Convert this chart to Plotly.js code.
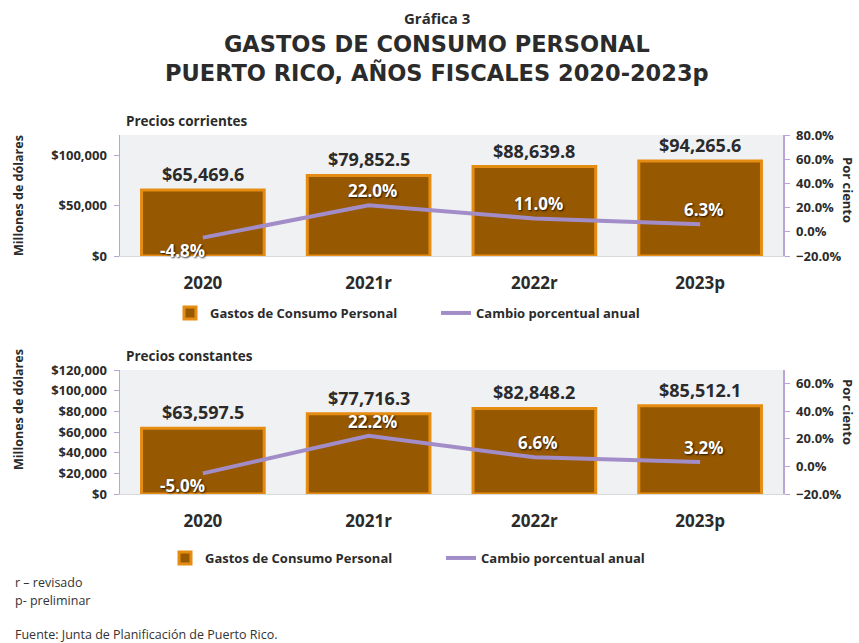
<!DOCTYPE html>
<html>
<head>
<meta charset="utf-8">
<script src="https://cdn.plot.ly/plotly-3.0.1.min.js"></script>
<style>html,body{margin:0;padding:0;background:#fff;}#chart{width:859px;height:643px;}</style>
</head>
<body>
<div id="chart"></div>
<script>
// ---- Data ----
const years = ["2020", "2021r", "2022r", "2023p"];
const gastosCorrientes = [65469.6, 79852.5, 88639.8, 94265.6];
const cambioCorrientes = [-4.8, 22.0, 11.0, 6.3];
const gastosConstantes = [63597.5, 77716.3, 82848.2, 85512.1];
const cambioConstantes = [-5.0, 22.2, 6.6, 3.2];

const barName = "Gastos de Consumo Personal";
const lineName = "Cambio porcentual anual";

// ---- Styles ----
const FONT = "Open Sans, Liberation Sans, sans-serif";
const TITLE_FONT = "DejaVu Sans, Open Sans, sans-serif";
const DARK = "#2b2b2b";
const BAR_FILL = "#965800";
const BAR_EDGE = "#E58C12";
const LINE_COL = "#A28DC9";
const AXIS_COL = "#B9A6D6";

const W = 859, H = 643, ML = 120, MR = 76;
const px2x = p => (p - ML) / (W - ML - MR);
const py2y = p => 1 - p / H;

function barTrace(vals, xa, ya, legend) {
  return {
    type: "bar", x: years, y: vals, name: barName, xaxis: xa, yaxis: ya,
    legend: legend,
    marker: {color: BAR_FILL, line: {color: BAR_EDGE, width: 3}},
    hoverinfo: "skip"
  };
}
function lineTrace(vals, xa, ya, legend) {
  return {
    type: "scatter", mode: "lines", x: years, y: vals, name: lineName,
    xaxis: xa, yaxis: ya, legend: legend,
    line: {color: LINE_COL, width: 4}, hoverinfo: "skip"
  };
}

const data = [
  barTrace(gastosCorrientes, "x", "y", "legend"),
  lineTrace(cambioCorrientes, "x", "y2", "legend"),
  barTrace(gastosConstantes, "x2", "y3", "legend2"),
  lineTrace(cambioConstantes, "x2", "y4", "legend2")
];

const annotations = [];
function valueLabels(vals, xr, yr) {
  vals.forEach((v, i) => {
    annotations.push({
      x: i, y: v, xref: xr, yref: yr, yanchor: "bottom", yshift: 2,
      text: "$" + v.toLocaleString("en-US", {minimumFractionDigits: 1, maximumFractionDigits: 1}),
      showarrow: false, font: {family: FONT, size: 18, color: DARK, weight: 700}
    });
  });
}
function pctLabels(vals, xr, yr) {
  vals.forEach((v, i) => {
    annotations.push({
      x: i, y: v, xref: xr, yref: yr,
      yanchor: v < 0 ? "top" : "bottom", yshift: v < 0 ? 1 : 1, xshift: v < 0 ? -20 : 4,
      text: v.toFixed(1) + "%", showarrow: false,
      font: {family: FONT, size: 17, color: "#ffffff", weight: 700, shadow: "1px 1px 2px rgba(0,0,0,0.8)"}
    });
  });
}
valueLabels(gastosCorrientes, "x", "y");
pctLabels(cambioCorrientes, "x", "y2");
valueLabels(gastosConstantes, "x2", "y3");
pctLabels(cambioConstantes, "x2", "y4");

function txt(text, xp, yp, size, weight, opts) {
  annotations.push(Object.assign({
    text: text, xref: "paper", yref: "paper", x: px2x(xp), y: py2y(yp),
    showarrow: false, font: {family: FONT, size: size, color: DARK, weight: weight}
  }, opts || {}));
}
// Titles
txt("Gráfica 3", 437, 18, 15, 700, {xanchor: "center", yanchor: "middle"});
txt("GASTOS DE CONSUMO PERSONAL<br>PUERTO RICO, AÑOS FISCALES 2020-2023p", 437, 59, 22.5, 700,
    {xanchor: "center", yanchor: "middle", font: {family: TITLE_FONT, size: 22.5, color: DARK, weight: 700}});
// Panel subtitles
txt("Precios corrientes", 124, 121, 13.5, 700, {xanchor: "left", yanchor: "middle"});
txt("Precios constantes", 124, 356, 13.5, 700, {xanchor: "left", yanchor: "middle"});
// Axis titles
txt("Millones de dólares", 18, 196, 12.5, 700, {xanchor: "center", yanchor: "middle", textangle: -90});
txt("Millones de dólares", 18, 410, 12.5, 700, {xanchor: "center", yanchor: "middle", textangle: -90});
txt("Por ciento", 848, 190, 13, 700, {xanchor: "center", yanchor: "middle", textangle: 90});
txt("Por ciento", 848, 412, 13, 700, {xanchor: "center", yanchor: "middle", textangle: 90});
// Footnotes
const footFont = {family: FONT, size: 12.5, color: "#333"};
txt("r – revisado", 13, 582, 12, 400, {xanchor: "left", yanchor: "middle", font: footFont});
txt("p- preliminar", 13, 600, 12, 400, {xanchor: "left", yanchor: "middle", font: footFont});
txt("Fuente: Junta de Planificación de Puerto Rico.", 13, 634, 12, 400, {xanchor: "left", yanchor: "middle", font: footFont});

const tickFont = {family: FONT, size: 13, color: DARK, weight: 700};
const xTickFont = {family: FONT, size: 17, color: DARK, weight: 700};

function xAxis(anchor) {
  return {
    domain: [0, 1], anchor: anchor, type: "category", categoryorder: "array", categoryarray: years,
    range: [-0.5, years.length - 0.5], autorange: false,
    showgrid: false, zeroline: false,
    showline: true, linecolor: "#D9D9D9", linewidth: 1, ticks: "",
    tickfont: xTickFont, ticklabelstandoff: 12, automargin: false, fixedrange: true
  };
}
function yLeft(domain, anchor, range, dtick) {
  return {
    domain: domain, anchor: anchor, range: range, autorange: false, dtick: dtick, tick0: 0,
    showgrid: false, zeroline: false, showline: true, linecolor: AXIS_COL, linewidth: 1.5,
    ticks: "outside", ticklen: 5, tickcolor: AXIS_COL, tickprefix: "$", tickformat: ",d",
    tickfont: tickFont, ticklabelstandoff: 4, automargin: false, fixedrange: true
  };
}
function yRight(overlay, anchor, range) {
  return {
    overlaying: overlay, anchor: anchor, side: "right", range: range, autorange: false, dtick: 20, tick0: 0,
    showgrid: false, zeroline: false, showline: true, linecolor: AXIS_COL, linewidth: 1.5,
    ticks: "outside", ticklen: 5, tickcolor: AXIS_COL, ticksuffix: "%", tickformat: ".1f",
    tickfont: tickFont, ticklabelstandoff: 4, automargin: false, fixedrange: true
  };
}

const legendBase = {
  orientation: "h", xanchor: "left", yanchor: "middle", font: {family: FONT, size: 13, color: DARK, weight: 700},
  bgcolor: "rgba(0,0,0,0)", itemclick: false, itemdoubleclick: false,
  entrywidthmode: "pixels", tracegroupgap: 0, itemwidth: 30
};

const layout = {
  width: W, height: H,
  margin: {l: ML, r: MR, t: 0, b: 0, pad: 0},
  paper_bgcolor: "#ffffff", plot_bgcolor: "#F0F1F3",
  bargap: 0.26, showlegend: true,
  font: {family: FONT, color: DARK},
  xaxis: xAxis("y"),
  yaxis: yLeft([py2y(256), py2y(135)], "x", [0, 120000], 50000),
  yaxis2: yRight("y", "x", [-20, 80]),
  xaxis2: xAxis("y3"),
  yaxis3: yLeft([py2y(494), py2y(370)], "x2", [0, 120000], 20000),
  yaxis4: yRight("y3", "x2", [-20, 70]),
  legend: Object.assign({}, legendBase, {x: px2x(170), y: py2y(313), entrywidth: 221}),
  legend2: Object.assign({}, legendBase, {x: px2x(165), y: py2y(558), entrywidth: 231}),
  annotations: annotations
};

Plotly.newPlot("chart", data, layout, {staticPlot: true, displayModeBar: false});
</script>
</body>
</html>
